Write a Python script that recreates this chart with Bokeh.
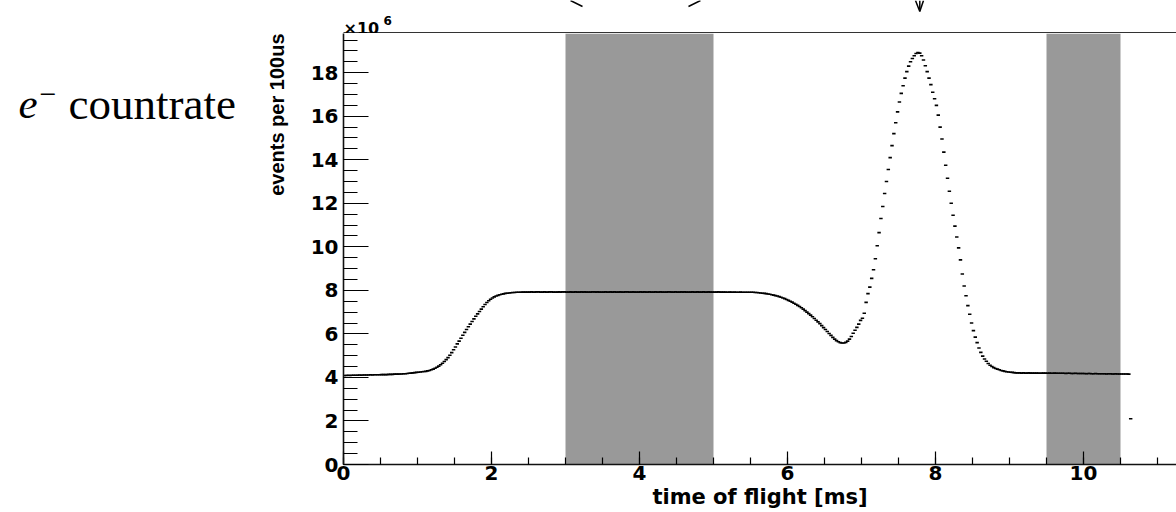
import numpy as np
from bokeh.plotting import figure
from bokeh.models import Range1d, FixedTicker, Title
from bokeh.layouts import row, column
from bokeh.core.properties import value
from bokeh.embed import file_html
from bokeh.resources import INLINE

# ---------------- data (events per bin, in units of 1e6) ----------------
bin_width_ms = 0.025

counts_0_to_1ms = [
    4.09, 4.09, 4.10, 4.09, 4.10, 4.10, 4.10, 4.10, 4.11, 4.10,
    4.11, 4.11, 4.11, 4.11, 4.12, 4.11, 4.12, 4.12, 4.12, 4.12,
    4.13, 4.13, 4.13, 4.13, 4.14, 4.14, 4.14, 4.15, 4.15, 4.15,
    4.16, 4.16, 4.17, 4.17, 4.18, 4.19, 4.20, 4.21, 4.22, 4.23,
]
counts_1_to_2p5ms = [
    4.24, 4.25, 4.26, 4.27, 4.28, 4.30, 4.32, 4.35, 4.38, 4.42,
    4.47, 4.52, 4.58, 4.65, 4.73, 4.82, 4.91, 5.02, 5.14, 5.27,
    5.40, 5.54, 5.67, 5.80, 5.94, 6.07, 6.20, 6.33, 6.45, 6.57,
    6.69, 6.81, 6.92, 7.03, 7.14, 7.25, 7.35, 7.44, 7.52, 7.59,
    7.65, 7.70, 7.74, 7.77, 7.80, 7.82, 7.84, 7.86, 7.87, 7.88,
    7.89, 7.90, 7.90, 7.91, 7.91, 7.91, 7.92, 7.92, 7.92, 7.92,
]
counts_2p5_to_5p5ms = [
    7.92, 7.93, 7.92, 7.92, 7.93, 7.93, 7.92, 7.92, 7.93, 7.92,
    7.92, 7.93, 7.93, 7.92, 7.92, 7.92, 7.93, 7.92, 7.93, 7.93,
    7.92, 7.92, 7.93, 7.92, 7.92, 7.93, 7.92, 7.92, 7.93, 7.92,
    7.93, 7.92, 7.92, 7.92, 7.93, 7.93, 7.92, 7.93, 7.92, 7.92,
    7.92, 7.93, 7.92, 7.92, 7.93, 7.92, 7.93, 7.92, 7.92, 7.93,
    7.92, 7.92, 7.93, 7.93, 7.92, 7.92, 7.93, 7.92, 7.92, 7.92,
    7.93, 7.92, 7.93, 7.92, 7.92, 7.93, 7.92, 7.92, 7.93, 7.92,
    7.92, 7.93, 7.92, 7.92, 7.92, 7.93, 7.93, 7.92, 7.92, 7.93,
    7.92, 7.92, 7.93, 7.92, 7.93, 7.92, 7.92, 7.92, 7.93, 7.92,
    7.92, 7.93, 7.92, 7.92, 7.93, 7.92, 7.92, 7.93, 7.92, 7.92,
    7.92, 7.92, 7.93, 7.92, 7.92, 7.92, 7.92, 7.91, 7.92, 7.92,
    7.91, 7.92, 7.91, 7.91, 7.92, 7.91, 7.91, 7.91, 7.91, 7.91,
]
counts_5p5_to_7ms = [
    7.91, 7.91, 7.90, 7.90, 7.89, 7.88, 7.87, 7.86, 7.85, 7.83,
    7.82, 7.80, 7.78, 7.76, 7.74, 7.71, 7.68, 7.65, 7.62, 7.58,
    7.54, 7.50, 7.46, 7.41, 7.36, 7.31, 7.26, 7.20, 7.14, 7.07,
    7.00, 6.93, 6.86, 6.79, 6.71, 6.63, 6.55, 6.47, 6.38, 6.29,
    6.20, 6.11, 6.02, 5.93, 5.84, 5.76, 5.69, 5.64, 5.60, 5.58,
    5.58, 5.61, 5.67, 5.76, 5.88, 6.03, 6.17, 6.30, 6.45, 6.62,
]
counts_7_to_8p35ms = [
    6.72, 6.95, 7.45, 7.85, 8.15, 8.55, 8.95, 9.45, 10.05, 10.65,
    11.30, 11.85, 12.45, 13.00, 13.55, 14.10, 14.65, 15.20, 15.70, 16.20,
    16.65, 17.05, 17.40, 17.75, 18.05, 18.30, 18.50, 18.65, 18.78, 18.88,
    18.93, 18.90, 18.78, 18.58, 18.32, 18.05, 17.75, 17.45, 17.10, 16.80,
    16.50, 16.05, 15.50, 14.95, 14.35, 13.75, 13.15, 12.55, 12.00, 11.45,
    10.95, 10.45, 9.95, 9.40,
]
counts_8p35_to_9p1ms = [
    8.75, 8.20, 7.75, 7.30, 6.90, 6.50, 6.15, 5.85, 5.60, 5.35,
    5.15, 4.98, 4.85, 4.74, 4.64, 4.56, 4.50, 4.45, 4.41, 4.38,
    4.35, 4.32, 4.30, 4.28, 4.26, 4.25, 4.24, 4.23, 4.22, 4.21,
]
counts_9p1_to_end = [
    4.21, 4.21, 4.20, 4.21, 4.20, 4.20, 4.21, 4.20, 4.20, 4.20,
    4.20, 4.20, 4.19, 4.20, 4.20, 4.20, 4.19, 4.20, 4.19, 4.19,
    4.20, 4.19, 4.19, 4.19, 4.19, 4.19, 4.18, 4.19, 4.19, 4.18,
    4.18, 4.19, 4.18, 4.18, 4.18, 4.18, 4.18, 4.17, 4.18, 4.18,
    4.17, 4.17, 4.18, 4.17, 4.17, 4.17, 4.17, 4.17, 4.16, 4.17,
    4.17, 4.16, 4.16, 4.17, 4.16, 4.16, 4.16, 4.16, 4.16, 4.16,
    4.15, 2.10,
]

band_start = [3.0, 9.5]
band_end = [5.0, 10.5]

x_major_ticks = [0, 2, 4, 6, 8, 10]
y_major_ticks = [0, 2, 4, 6, 8, 10, 12, 14, 16, 18]

# ---------------- assemble ----------------
events = np.array(counts_0_to_1ms + counts_1_to_2p5ms + counts_2p5_to_5p5ms
                  + counts_5p5_to_7ms + counts_7_to_8p35ms
                  + counts_8p35_to_9p1ms + counts_9p1_to_end)
bin_lo = np.arange(len(events)) * bin_width_ms
bin_hi = bin_lo + bin_width_ms

# ---------------- layout (page pixels) ----------------
PAGE_W, PAGE_H = 1176, 512
LEFT_W = 300            # left text strip
TOP_H = 33              # strip above frame
FRAME_W = 833
MAIN_BL, MAIN_BB = 43, 48
MAIN_W = PAGE_W - LEFT_W
MAIN_H = PAGE_H - TOP_H
FRAME_H = MAIN_H - MAIN_BB
X_END = FRAME_W / 74.0
Y_END = 19.8

TICK_FONT = "DejaVu Sans"
SERIF = "Liberation Serif"


def strip(w, h, x0, y0):
    """A blank figure whose data coordinates are page pixels (y up)."""
    f = figure(width=w, height=h, output_backend="svg", toolbar_location=None,
               x_range=Range1d(x0, x0 + w), y_range=Range1d(0, h),
               x_axis_location=None, y_axis_location=None, min_border=0,
               frame_align=False, margin=0)
    f.outline_line_color = None
    f.grid.visible = False
    f.background_fill_color = "white"
    f.border_fill_color = "white"

    def page_y(py):
        return y0 + h - py
    return f, page_y


# ---------------- main plot ----------------
p = figure(width=MAIN_W, height=MAIN_H, output_backend="svg",
           toolbar_location=None,
           x_range=Range1d(0, X_END), y_range=Range1d(0, Y_END),
           min_border_left=MAIN_BL, min_border_right=0,
           min_border_top=0, min_border_bottom=MAIN_BB,
           frame_align=False, margin=0)
p.outline_line_color = None
p.grid.visible = False
p.background_fill_color = "white"
p.border_fill_color = "white"

p.quad(left=band_start, right=band_end, bottom=0, top=Y_END,
       fill_color="#999999", line_color=None)
p.segment(x0=bin_lo, y0=events, x1=bin_hi, y1=events,
          line_color="black", line_width=1.6, line_cap="square")

xa = p.xaxis[0]
xa.ticker = FixedTicker(ticks=x_major_ticks, minor_ticks=list(np.arange(0, 11.5, 0.5)))
xa.major_tick_in, xa.major_tick_out = 13, 0
xa.minor_tick_in, xa.minor_tick_out = 7, 0
xa.major_label_standoff = 1

ya = p.yaxis[0]
ya.ticker = FixedTicker(ticks=y_major_ticks, minor_ticks=list(np.arange(0, 20, 0.5)))
ya.major_tick_in, ya.major_tick_out = 25, 0
ya.minor_tick_in, ya.minor_tick_out = 14, 0
ya.major_label_standoff = 5

for ax in (xa, ya):
    ax.axis_line_width = 1.6
    ax.axis_line_color = "#111111"
    ax.major_tick_line_color = "black"
    ax.minor_tick_line_color = "black"
    ax.major_tick_line_width = 1.2
    ax.minor_tick_line_width = 1.2
    ax.major_label_text_font = TICK_FONT
    ax.major_label_text_font_style = "bold"
    ax.major_label_text_font_size = "20px"
    ax.major_label_text_color = "black"

# x-axis title, shifted right like the reference
p.add_layout(Title(text="time of flight [ms]", align="center", offset=50,
                   standoff=0, text_font=TICK_FONT, text_font_style="bold",
                   text_font_size="21px", text_color="black"), "below")

# ---------------- top strip: frame top line, exponent, arrows ----------------
top, ty = strip(MAIN_W, TOP_H, LEFT_W, 0)
top.segment(x0=[LEFT_W + MAIN_BL], x1=[PAGE_W], y0=[ty(32.2)], y1=[ty(32.2)],
            line_color="#333333", line_width=1.6)
top.text(x=[LEFT_W + MAIN_BL], y=[ty(27.5)], text=["×10"],
         text_font=value(TICK_FONT), text_font_style="bold",
         text_font_size="16px", text_align="left", text_baseline="alphabetic",
         text_color="black")
top.text(x=[383], y=[ty(20)], text=["6"],
         text_font=value(TICK_FONT), text_font_style="bold",
         text_font_size="12px", text_align="left", text_baseline="alphabetic",
         text_color="black")
# partial marks of annotations above the crop
mark_x0 = [570, 688, 915, 923, 919.3]
mark_y0 = [0, 6, 0, 0, 0]
mark_x1 = [582, 700, 919.3, 919.3, 919.3]
mark_y1 = [6, 0, 11, 11, 9]
top.segment(x0=mark_x0, y0=[ty(v) for v in mark_y0], x1=mark_x1,
            y1=[ty(v) for v in mark_y1], line_color="black", line_width=1.5)

# ---------------- left strip: y title and big label ----------------
left, ly = strip(LEFT_W, PAGE_H, 0, 0)
left.text(x=[276], y=[ly(TOP_H)], text=["events per 100us"],
          text_font=value("Liberation Sans"), text_font_style="bold",
          text_font_size="20px", angle=np.pi / 2, text_align="right",
          text_baseline="middle", text_color="black")
left.text(x=[18], y=[ly(103)], text=["e"], text_font=value(SERIF),
          text_font_style="italic", text_font_size="43px",
          text_align="left", text_baseline="alphabetic", text_color="black")
left.text(x=[39], y=[ly(94)], text=["−"], text_font=value(SERIF),
          text_font_size="30px", text_align="left",
          text_baseline="alphabetic", text_color="black")
left.text(x=[68], y=[ly(103)], text=["countrate"], text_font=value(SERIF),
          text_font_size="45px", text_align="left",
          text_baseline="alphabetic", text_color="black")

layout = row(left, column(top, p, spacing=0, margin=0), spacing=0, margin=0)
open("out.html", "w").write(file_html(layout, INLINE))
